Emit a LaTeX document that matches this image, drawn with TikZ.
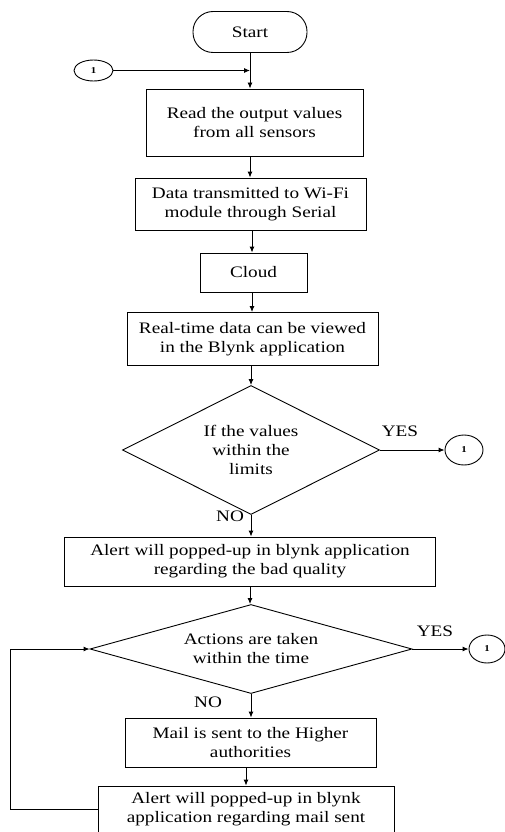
\documentclass[tikz,border=0pt]{standalone}
\usepackage{fontspec}
\setmainfont{Liberation Serif}[FakeStretch=1.2]
\usepackage{tikz}
\usetikzlibrary{positioning, arrows.meta, shapes.geometric}

\tikzset{
  box/.style={draw, line width=0.9pt, align=center, inner sep=0pt,
              font=\fontsize{16}{19}\selectfont},
  decision/.style={draw, diamond, line width=0.9pt, align=center, inner sep=0pt,
              font=\fontsize{16}{19}\selectfont},
  conn/.style={draw, ellipse, line width=0.9pt, inner sep=0pt,
              font=\fontsize{9}{10}\selectfont\bfseries},
  flow/.style={line width=0.9pt, -{Latex[length=6pt,width=5pt]}},
  lbl/.style={font=\fontsize{16}{19}\selectfont, inner sep=0pt}
}

\begin{document}
\begin{tikzpicture}[x=1pt, y=-1pt]
    \useasboundingbox[fill=white] (0,0) rectangle (504,832);

    % main column
    \node[box, rounded corners=20pt, minimum width=114pt, minimum height=41pt] (start) at (250,32) {Start};
    \node[box, minimum width=217pt, minimum height=67pt] (read) at (254.5,122.5) {Read the output values\\from all sensors};
    \node[box, minimum width=231pt, minimum height=52pt] (wifi) at (250.5,204) {Data transmitted to Wi-Fi\\module through Serial};
    \node[box, minimum width=107pt, minimum height=39pt] (cloud) at (253.5,272.5) {Cloud};
    \node[box, minimum width=251pt, minimum height=53pt] (view) at (252.5,339) {Real-time data can be viewed\\in the Blynk application};
    \node[decision, aspect=2, minimum width=257pt, minimum height=129pt] (limits) at (251,450) {If the values\\within the\\limits};
    \node[box, minimum width=371pt, minimum height=49pt] (alert) at (250,561.5) {Alert will popped-up in blynk application\\regarding the bad quality};
    \node[decision, aspect=3.6, minimum width=322pt, minimum height=89pt] (action) at (251,649) {Actions are taken\\within the time};
    \node[box, minimum width=251pt, minimum height=49pt] (mail) at (250.5,742.5) {Mail is sent to the Higher\\authorities};
    \node[box, minimum width=296pt, minimum height=46pt] (mailalert) at (246,809) {Alert will popped-up in blynk\\application regarding mail sent};

    % connectors "1"
    \node[conn, minimum width=39pt, minimum height=21pt] (c1) at (93.5,70.5) {1};
    \node[conn, minimum width=38pt, minimum height=30pt] (c2) at (464,450) {1};
    \node[conn, minimum width=36pt, minimum height=28pt] (c3) at (487,649) {1};
    \coordinate (join) at (250,70.5);

    % labels
    \node[lbl] (yes1) at (400,431) {YES};
    \node[lbl] (no1) at (230,516) {NO};
    \node[lbl] (yes2) at (435,631) {YES};
    \node[lbl] (no2) at (208,702) {NO};

    % arrows
    \draw[flow] (start.south) -- (start.south |- read.north);
    \draw[flow] (c1) -- (join);
    \draw[flow] (read.south -| start.south) -- (wifi.north -| start.south);
    \draw[flow] (wifi.south -| 252,0) -- (cloud.north -| 252,0);
    \draw[flow] (cloud.south -| 252,0) -- (view.north -| 252,0);
    \draw[flow] (view.south -| limits.north) -- (limits.north);
    \draw[flow] (limits.east) -- (c2);
    \draw[flow] (limits.south) -- (limits.south |- alert.north);
    \draw[flow] (alert.south -| 250,0) -- (action.north -| 250,0);
    \draw[flow] (action.east) -- (c3);
    \draw[flow] (action.south) -- (action.south |- mail.north);
    \draw[flow] (mail.south -| mailalert.north) -- (mailalert.north);
    \draw[flow] (mailalert.west) -- ++(-87,0) |- (action.west);
\end{tikzpicture}
\end{document}
